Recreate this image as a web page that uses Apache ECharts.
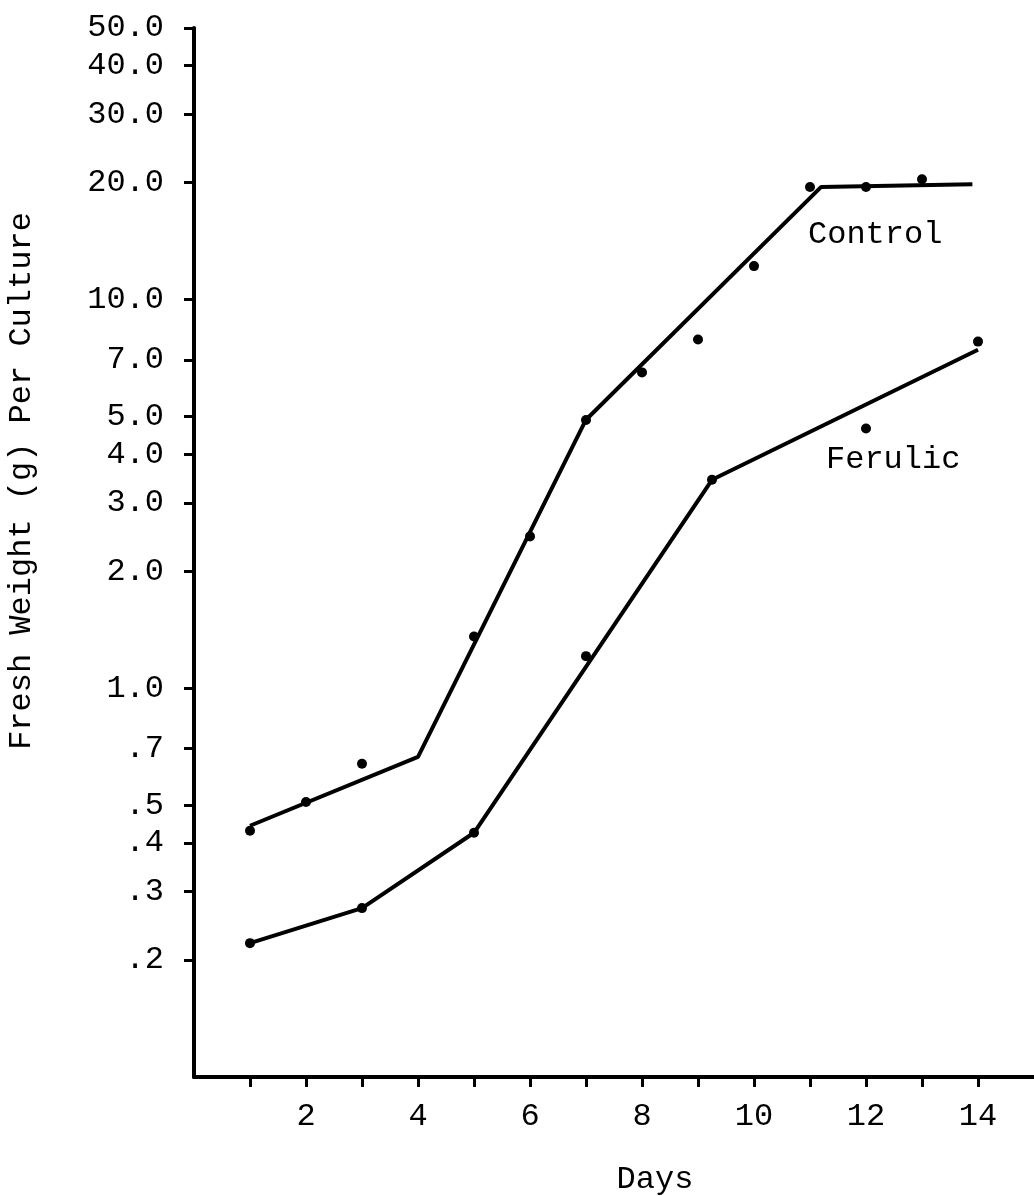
<!DOCTYPE html>
<html>
<head>
<meta charset="utf-8">
<script src="https://cdn.jsdelivr.net/npm/echarts@6/dist/echarts.min.js"></script>
<style>
  html, body { margin: 0; padding: 0; background: #fff; }
  #chart { width: 1034px; height: 1196px; }
</style>
</head>
<body>
<div id="chart"></div>
<script>
// Fresh weight per culture (g), log scale, by day of culture

// Measured points
const controlDays   = [1, 2, 3, 5, 6, 7, 8, 9, 10, 11, 12, 13];
const controlWeight = [0.43, 0.51, 0.64, 1.36, 2.46, 4.9, 6.5, 7.9, 12.2, 19.5, 19.5, 20.4];
const ferulicDays   = [1, 3, 5, 7, 9.25, 12, 14];
const ferulicWeight = [0.221, 0.272, 0.425, 1.21, 3.44, 4.66, 7.8];

// Hand-fitted growth lines (vertices)
const controlFitDays   = [1, 4, 7, 11.2, 13.9];
const controlFitWeight = [0.443, 0.666, 4.91, 19.5, 19.8];
const ferulicFitDays   = [1, 3, 5, 9.25, 14];
const ferulicFitWeight = [0.221, 0.272, 0.425, 3.44, 7.43];

// Axis ticks and labels
const yTickValues = [50, 40, 30, 20, 10, 7, 5, 4, 3, 2, 1, 0.7, 0.5, 0.4, 0.3, 0.2];
const yTickLabels = ['50.0', '40.0', '30.0', '20.0', '10.0', '7.0', '5.0', '4.0', '3.0', '2.0', '1.0', '.7', '.5', '.4', '.3', '.2'];
const xTickDays  = [1, 2, 3, 4, 5, 6, 7, 8, 9, 10, 11, 12, 13, 14];
const xLabelDays = [2, 4, 6, 8, 10, 12, 14];

const FONT = "'Liberation Mono', 'Courier New', monospace";
const FONT_SIZE = 32;
const INK = '#000';

function pairs(xs, ys) { return xs.map((x, i) => [x, ys[i]]); }
function yLabel(v) {
  const i = yTickValues.findIndex(t => Math.abs(v / t - 1) < 1e-6);
  return i >= 0 ? yTickLabels[i] : '';
}

const chart = echarts.init(document.getElementById('chart'), null, { renderer: 'canvas' });

chart.setOption({
  backgroundColor: '#fff',
  animation: false,
  grid: { left: 194, right: 0, top: 28, bottom: 119, containLabel: false },
  xAxis: {
    type: 'value',
    min: 0,
    max: 15,
    interval: 1,
    axisLine: { show: true, onZero: false, lineStyle: { color: INK, width: 4 } },
    axisTick: { show: true, customValues: xTickDays, length: 10, inside: false, lineStyle: { color: INK, width: 3 } },
    axisLabel: {
      show: true, customValues: xLabelDays, margin: 24,
      color: INK, fontFamily: FONT, fontSize: FONT_SIZE,
      formatter: v => String(v)
    },
    splitLine: { show: false }
  },
  yAxis: {
    type: 'log',
    logBase: 10,
    min: 0.1,
    max: 50,
    axisLine: { show: true, onZero: false, lineStyle: { color: INK, width: 4 } },
    axisTick: { show: true, customValues: yTickValues, length: 10, inside: false, lineStyle: { color: INK, width: 3 } },
    axisLabel: {
      show: true, customValues: yTickValues, margin: 30,
      color: INK, fontFamily: FONT, fontSize: FONT_SIZE,
      formatter: yLabel
    },
    splitLine: { show: false },
    minorTick: { show: false }
  },
  series: [
    {
      name: 'Control fit', type: 'line', data: pairs(controlFitDays, controlFitWeight),
      symbol: 'none', lineStyle: { color: INK, width: 4 }, z: 2
    },
    {
      name: 'Ferulic fit', type: 'line', data: pairs(ferulicFitDays, ferulicFitWeight),
      symbol: 'none', lineStyle: { color: INK, width: 4 }, z: 2
    },
    {
      name: 'Control', type: 'scatter', data: pairs(controlDays, controlWeight),
      symbol: 'circle', symbolSize: 10, itemStyle: { color: INK, opacity: 1 }, z: 3
    },
    {
      name: 'Ferulic', type: 'scatter', data: pairs(ferulicDays, ferulicWeight),
      symbol: 'circle', symbolSize: 10, itemStyle: { color: INK, opacity: 1 }, z: 3
    }
  ],
  graphic: [
    { type: 'text', left: 808, top: 219,
      style: { text: 'Control', fill: INK, font: FONT_SIZE + 'px ' + FONT } },
    { type: 'text', left: 826, top: 444,
      style: { text: 'Ferulic', fill: INK, font: FONT_SIZE + 'px ' + FONT } },
    { type: 'text', x: 655, y: 1180,
      style: { text: 'Days', fill: INK, font: FONT_SIZE + 'px ' + FONT, textAlign: 'center', textVerticalAlign: 'middle' } },
    { type: 'text', x: 22, y: 481, rotation: Math.PI / 2,
      style: { text: 'Fresh Weight (g) Per Culture', fill: INK, font: FONT_SIZE + 'px ' + FONT, textAlign: 'center', textVerticalAlign: 'middle' } }
  ]
});
</script>
</body>
</html>
